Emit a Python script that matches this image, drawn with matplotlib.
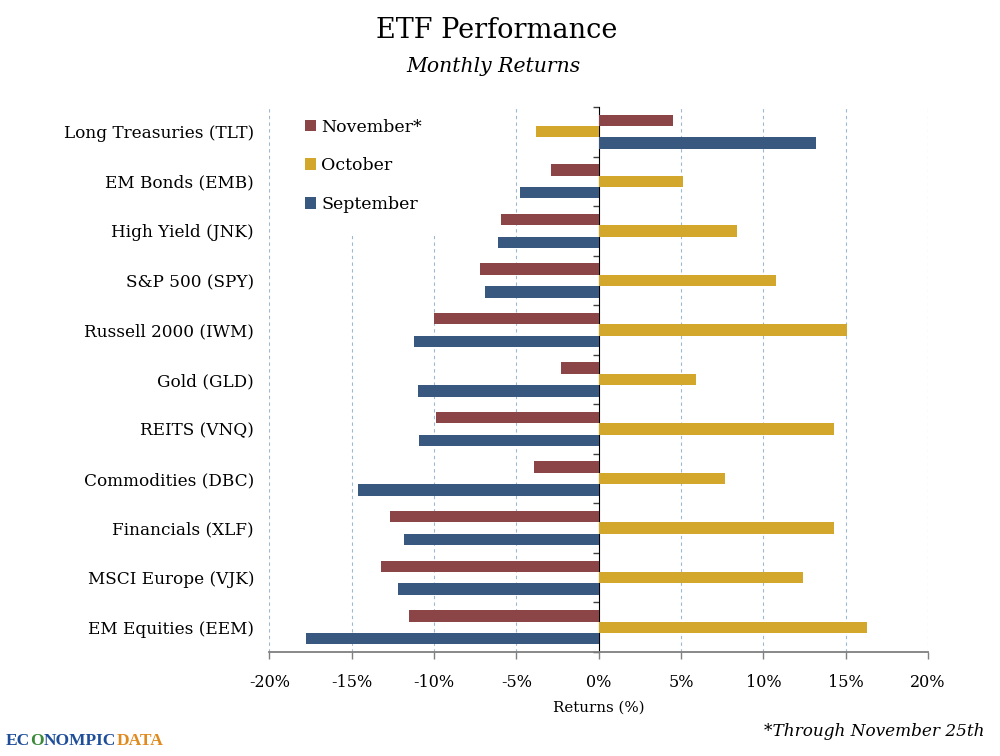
import numpy as np
import matplotlib
matplotlib.use('Agg')
import matplotlib.pyplot as plt
from matplotlib.patches import Patch
from matplotlib.offsetbox import TextArea, HPacker, AnnotationBbox

# data (monthly returns, %)
categories = ['Long Treasuries (TLT)', 'EM Bonds (EMB)', 'High Yield (JNK)',
              'S&P 500 (SPY)', 'Russell 2000 (IWM)', 'Gold (GLD)',
              'REITS (VNQ)', 'Commodities (DBC)', 'Financials (XLF)',
              'MSCI Europe (VJK)', 'EM Equities (EEM)']
november = [4.5, -2.9, -5.9, -7.2, -10.0, -2.3, -9.9, -3.9, -12.7, -13.2, -11.5]
october = [-3.8, 5.1, 8.4, 10.8, 15.1, 5.9, 14.3, 7.7, 14.3, 12.4, 16.3]
september = [13.2, -4.8, -6.1, -6.9, -11.2, -11.0, -10.9, -14.6, -11.8, -12.2, -17.8]
series_names = ['November*', 'October', 'September']
xticks = [-20, -15, -10, -5, 0, 5, 10, 15, 20]

col_nov = '#8C4547'
col_oct = '#D2A72B'
col_sep = '#38587F'
grid_col = '#9DB8D2'

serif = 'DejaVu Serif'
plt.rcParams['font.family'] = serif

fig = plt.figure(figsize=(10, 7.56), dpi=100)
ax = fig.add_axes([0.2693, 1 - 652 / 756, 0.9280 - 0.2693, (652 - 107) / 756])

n = len(categories)
y = np.arange(n)          # group index, top to bottom
h = 0.23
ax.barh(y - h, november, height=h, color=col_nov, zorder=3)
ax.barh(y, october, height=h, color=col_oct, zorder=3)
ax.barh(y + h, september, height=h, color=col_sep, zorder=3)

ax.set_xlim(-20, 20)
ax.set_ylim(n - 0.5, -0.5)

# dashed vertical gridlines
for t in xticks:
    if t != 0:
        ax.axvline(t, color=grid_col, lw=0.8, ls=(0, (3, 3)), zorder=1)

# axis styling
for s in ['top', 'right', 'left']:
    ax.spines[s].set_visible(False)
ax.spines['bottom'].set_color('#7F7F7F')
ax.spines['bottom'].set_linewidth(1.3)
ax.set_xticks(xticks)
ax.set_xticklabels(['%d%%' % t for t in xticks], fontsize=11.5)
ax.tick_params(axis='x', direction='out', length=5, width=1, color='#7F7F7F', pad=11)

ax.set_yticks(y)
ax.set_yticklabels(categories, fontsize=12.2)
ax.tick_params(axis='y', length=0, pad=11)

# vertical axis at zero with ticks between groups
sec = ax.secondary_yaxis(0.5)
sec.set_yticks(np.arange(n + 1) - 0.5)
sec.set_yticklabels([])
sec.spines['left'].set_color('#404040')
sec.spines['left'].set_linewidth(1.2)
sec.tick_params(axis='y', direction='in', length=4, width=1, color='#404040')

ax.set_xlabel('Returns (%)', fontsize=10.8, labelpad=7)

handles = [Patch(facecolor=c, edgecolor='none') for c in (col_nov, col_oct, col_sep)]
leg = ax.legend(handles, series_names, loc='upper left', bbox_to_anchor=(0.0065, 1.036),
                frameon=True, facecolor='white', edgecolor='none', framealpha=1,
                fontsize=12.5, handlelength=0.65, handleheight=0.65, handletextpad=0.3,
                labelspacing=1.25, borderpad=1.3, fancybox=False)
leg.set_zorder(5)

fig.text(0.497, 1 - 31 / 756, 'ETF Performance', ha='center', va='center', fontsize=19.5)
fig.text(0.4935, 1 - 67 / 756, 'Monthly Returns', ha='center', va='center',
         fontsize=14.7, style='italic')
fig.text(0.985, 1 - 732 / 756, '*Through November 25th', ha='right', va='center',
         fontsize=12.2, style='italic')

# logo text
logo_font = dict(fontsize=12.5, fontweight='bold', family='Liberation Serif')
parts = [TextArea('EC', textprops=dict(color='#1F4E99', **logo_font)),
         TextArea('O', textprops=dict(color='#3A8A3A', **logo_font)),
         TextArea('NOMPIC', textprops=dict(color='#1F4E99', **logo_font)),
         TextArea('DATA', textprops=dict(color='#E08A1E', **logo_font))]
pack = HPacker(children=parts, align='baseline', pad=0, sep=0)
ab = AnnotationBbox(pack, (0.006, 1 - 741 / 756), xycoords='figure fraction',
                    box_alignment=(0, 0.5), frameon=False)
fig.add_artist(ab)

fig.savefig('out.png', dpi=100, facecolor='white')
